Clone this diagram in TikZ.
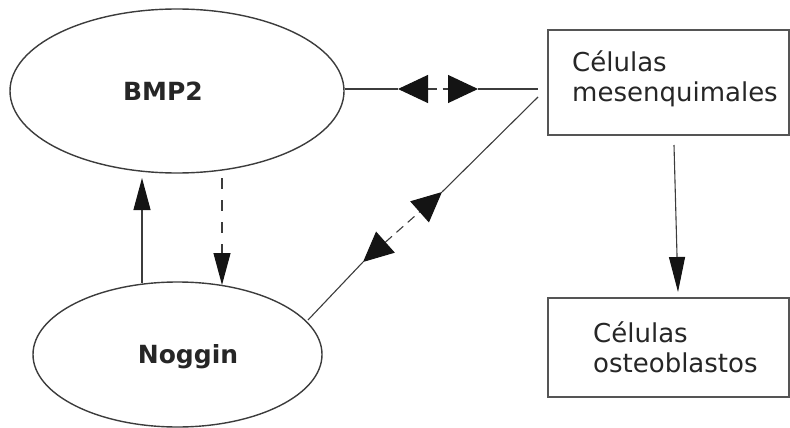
\documentclass[tikz,border=0pt]{standalone}
\usepackage{fontspec}
\setmainfont{DejaVu Sans}
\usepackage{tikz}
\usetikzlibrary{arrows.meta,calc,shapes.geometric}
\definecolor{inkline}{HTML}{3C3C3C}
\definecolor{boxline}{HTML}{555555}
\definecolor{inktext}{HTML}{262626}
\definecolor{tipfill}{HTML}{141414}

\begin{document}
\begin{tikzpicture}[x=1pt,y=-1pt,
    blob/.style={draw=inkline,line width=1.4pt,ellipse,inner sep=0pt},
    cellbox/.style={draw=boxline,line width=1.4pt,rectangle,inner sep=0pt},
    celltext/.style={text=inktext,align=left,anchor=base west,inner sep=0pt,
      font=\fontsize{26}{30}\selectfont},
    protname/.style={text=inktext,inner sep=0pt,font=\fontsize{25}{30}\selectfont\bfseries},
    link/.style={draw=inkline,line width=1.1pt},
    widetip/.style={{Triangle[length=30pt,width=28pt,color=tipfill]}-{Triangle[length=30pt,width=28pt,color=tipfill]}},
    slimtip/.style={-{Triangle[length=32pt,width=17pt,color=tipfill]}}]
    \useasboundingbox (0,0) rectangle (790,428);
    % proteins
    \node[blob,minimum width=334pt,minimum height=164pt] (bmp) at (177,91) {};
    \node[blob,minimum width=289pt,minimum height=145pt] (nog) at (177.5,354.5) {};
    \node[protname] (bmptxt) at (163,91) {BMP2};
    \node[protname] (nogtxt) at (188,357) {Noggin};
    % cells
    \node[cellbox,minimum width=241pt,minimum height=105pt] (mes) at (668.5,82.5) {};
    \node[cellbox,minimum width=241pt,minimum height=99pt] (ost) at (668.5,347.5) {};
    \node[celltext] (mestxt) at (572,102) {Células\\mesenquimales};
    \node[celltext] (osttxt) at (593,372) {Células\\osteoblastos};
    % BMP2 <-> mesenquimales
    \coordinate (h1) at (398,89);
    \coordinate (h2) at (478,89);
    \coordinate (h3) at (538,89);
    \draw[link] (h1 -| bmp.east) -- (h1);
    \draw[link,dash pattern=on 9pt off 6pt,widetip] (h1) -- (h2);
    \draw[link] (h2) -- (h3);
    % Noggin <-> mesenquimales
    \coordinate (d0) at (308,320);
    \coordinate (d1) at (363,262);
    \coordinate (d2) at (442,192);
    \coordinate (d3) at (538,97);
    \draw[link] (d0) -- (d1);
    \draw[link,dash pattern=on 9pt off 6pt,widetip] (d1) -- (d2);
    \draw[link] (d2) -- (d3);
    % Noggin -> BMP2, BMP2 -> Noggin
    \coordinate (u0) at (142,283);
    \coordinate (u1) at (142,178);
    \coordinate (v0) at (222,178);
    \coordinate (v1) at (222,285);
    \draw[link,slimtip] (u0) -- (u1);
    \draw[link,dash pattern=on 11pt off 11pt,slimtip] (v0) -- (v1);
    % mesenquimales -> osteoblastos
    \coordinate (m0) at (674,145);
    \coordinate (m1) at (678,292);
    \draw[link,-{Triangle[length=35pt,width=16pt,color=tipfill]}] (m0) -- (m1);
  \end{tikzpicture}
\end{document}
